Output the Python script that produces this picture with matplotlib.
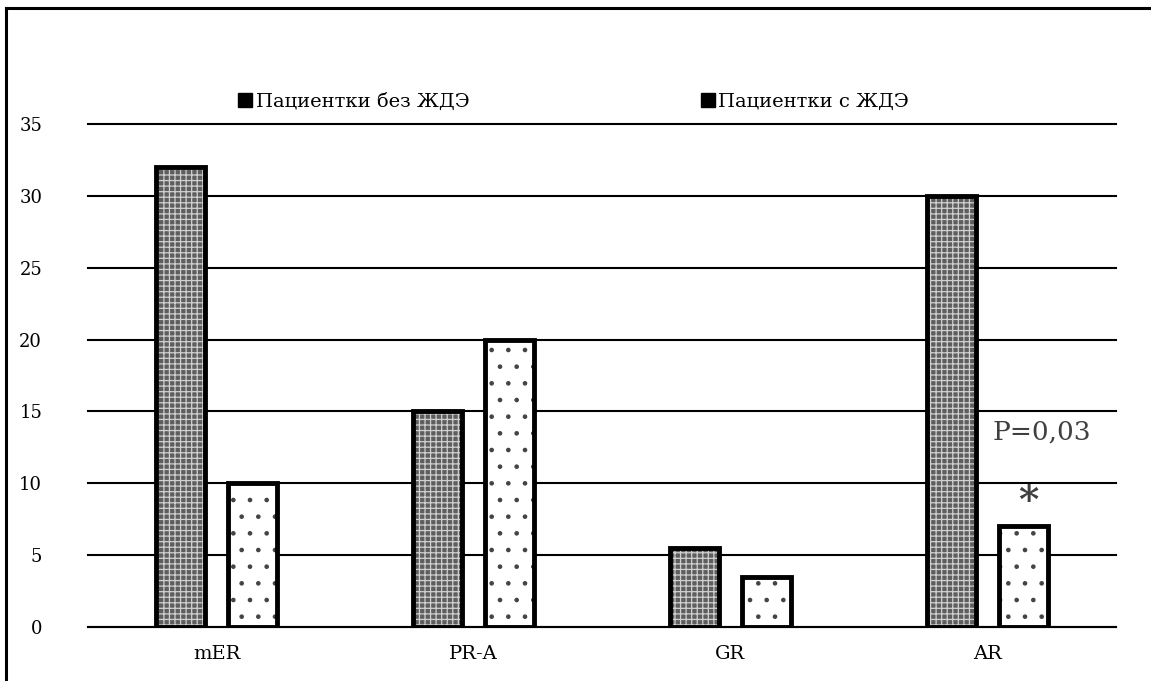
import matplotlib
matplotlib.use("Agg")
import matplotlib.pyplot as plt
from matplotlib.lines import Line2D
import numpy as np

categories = ["mER", "PR-A", "GR", "AR"]
without_ida = [32, 15, 5.5, 30]
with_ida = [10, 20, 3.5, 7]
series_names = ["Пациентки без ЖДЭ", "Пациентки с ЖДЭ"]
yticks = [0, 5, 10, 15, 20, 25, 30, 35]

plt.rcParams['font.family'] = ['DejaVu Serif']
plt.rcParams['hatch.linewidth'] = 0.9

fig = plt.figure(figsize=(11.51, 6.81), dpi=100)
ax = fig.add_axes([88/1151, 1-627/681, (1116-88)/1151, (627-124)/681])

x = np.arange(len(categories))
w = 0.19
off = 0.14

ax.set_ylim(0, 35)
ax.set_xlim(-0.5, len(categories) - 0.5)
ax.set_yticks(yticks)
ax.yaxis.grid(True, color='black', linewidth=1.5)
for gl in ax.get_ygridlines():
    gl.set_clip_on(False)
ax.set_axisbelow(True)

# fills
ax.bar(x - off, without_ida, w, color='#5e5e5e', edgecolor='#d0d0d0', hatch='+++', linewidth=0, zorder=2)
ax.bar(x + off, with_ida, w, color='white', edgecolor='#444444', hatch='.', linewidth=0, zorder=2)
# outlines
ax.bar(x - off, without_ida, w, fill=False, edgecolor='black', linewidth=3.5, zorder=3)
ax.bar(x + off, with_ida, w, fill=False, edgecolor='black', linewidth=3.5, zorder=3)

ax.set_xticks(x)
ax.set_xticklabels(categories, fontsize=14)
ax.tick_params(axis='both', length=0)
ax.tick_params(axis='y', pad=33, labelsize=13)
ax.tick_params(axis='x', pad=13)
for s in ['top', 'right', 'left']:
    ax.spines[s].set_visible(False)
ax.spines['bottom'].set_linewidth(1.5)

ax.text(3 + 0.21, 13.6, "P=0,03", fontsize=19, color='#404040', ha='center', va='center')
ax.text(3 + 0.16, 8.7, "*", fontsize=28, color='#404040', ha='center', va='center',
        fontweight='bold')

h1 = Line2D([], [], marker='s', color='black', markersize=10, linestyle='None',
            markeredgecolor='black')
h2 = Line2D([], [], marker='s', color='black', markersize=10, linestyle='None',
            markeredgecolor='black')
leg1 = fig.legend([h1], [series_names[0]], loc='center left',
                  bbox_to_anchor=(238/1151, 1-102/681), frameon=False,
                  fontsize=14, handlelength=0.7, handletextpad=0.2,
                  borderpad=0, borderaxespad=0)
leg2 = fig.legend([h2], [series_names[1]], loc='center left',
                  bbox_to_anchor=(701/1151, 1-102/681), frameon=False,
                  fontsize=14, handlelength=0.7, handletextpad=0.2,
                  borderpad=0, borderaxespad=0)

# border lines of the frame
fig.add_artist(Line2D([6/1151, 1], [1-8/681, 1-8/681], color='black', linewidth=2.2,
                      transform=fig.transFigure))
fig.add_artist(Line2D([6/1151, 6/1151], [1-8/681, 0], color='black', linewidth=2.2,
                      transform=fig.transFigure))

fig.savefig("out.png", dpi=100)
